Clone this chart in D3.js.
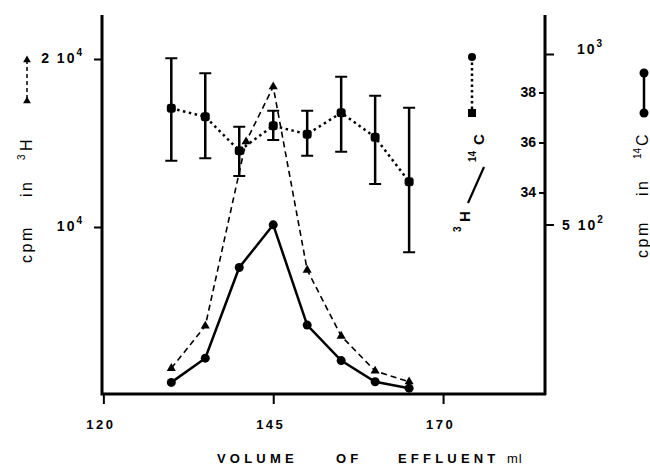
<!DOCTYPE html>
<html>
<head>
<meta charset="utf-8">
<script src="https://cdn.jsdelivr.net/npm/d3@7"></script>
<style>
  body { margin: 0; background: #fff; }
  svg { display: block; font-family: "Liberation Sans", Arial, sans-serif; }
</style>
</head>
<body>
<div id="chart"></div>
<script>
// fractions collected (ml of effluent)
let volumes = [130, 135, 140, 145, 150, 155, 160, 165];
let volumesH = [130, 135, 141, 145, 150, 155, 160, 165];
// 3H counts (left axis) and 14C counts (right axis)
let cpmH = [1590, 4110, 15080, 18350, 7440, 3510, 1430, 790];
let cpmC = [37, 108, 374, 499, 205, 101, 39, 20];
// 3H / 14C ratio with error bars
let ratio = [37.37, 37.03, 35.67, 36.67, 36.33, 37.19, 36.21, 34.43];
let ratioLow = [35.27, 35.37, 34.66, 36.10, 35.47, 35.63, 34.34, 31.61];
let ratioHigh = [39.37, 38.77, 36.63, 37.27, 37.27, 38.63, 37.87, 37.39];

let xTicks = [120, 145, 170];
let hTicks = [10000, 20000], hTickText = ['10', '2 10'], hTickExp = ['4', '4'];
let cTicks = [500, 1000], cTickText = ['5 10', '10'], cTickExp = ['2', '3'];
let rTicks = [34, 36, 38];

let width = 650, height = 465;
let plotLeft = 102, plotRight = 545, plotTop = 15, plotBottom = 394;
let font = '"Liberation Sans", Arial, sans-serif';

let svg = d3.select('#chart')
    .append('svg')
    .attr('width', width)
    .attr('height', height);

let x = d3.scaleLinear().domain([119.8, 185]).range([plotLeft, plotRight]);
let yH = d3.scaleLinear().domain([0, 20000]).range([395, 59]);
let yC = d3.scaleLinear().domain([0, 1000]).range([395, 54]);
let yR = d3.scaleLinear().domain([34, 38]).range([192.5, 92.5]);

// frame lines
svg.append('path')
    .attr('d', `M${plotLeft},${plotTop}V${plotBottom}H${plotRight + 1}M${plotRight},${plotTop}V${plotBottom + 1}`)
    .attr('fill', 'none')
    .attr('stroke', '#000')
    .attr('stroke-width', 3);

// x axis
let xAxis = svg.append('g')
    .attr('transform', `translate(0,${plotBottom})`)
    .call(d3.axisBottom(x).tickValues(xTicks).tickSize(10).tickPadding(16));
xAxis.select('.domain').remove();
xAxis.selectAll('line').attr('stroke-width', 2);
xAxis.selectAll('text')
    .attr('font-size', 13)
    .attr('font-weight', 'bold')
    .attr('letter-spacing', 2.5)
    .attr('dx', -3)
    .attr('font-family', font);

// left 3H axis
let hAxis = svg.append('g')
    .attr('transform', `translate(${plotLeft},0)`)
    .call(d3.axisLeft(yH).tickValues(hTicks).tickSize(8).tickFormat(''));
hAxis.select('.domain').remove();
hAxis.selectAll('line').attr('stroke-width', 2);
let hLab = svg.selectAll('.hlab')
    .data(hTicks)
    .enter()
    .append('text')
    .attr('x', 84)
    .attr('y', d => yH(d) + 4)
    .attr('text-anchor', 'end')
    .attr('font-size', 14)
    .attr('font-weight', 'bold')
    .attr('letter-spacing', 2);
hLab.append('tspan').text((d, i) => hTickText[i]);
hLab.append('tspan').attr('dy', -7).attr('font-size', 10).text((d, i) => hTickExp[i]);

// right 14C axis (ticks outward)
let cAxis = svg.append('g')
    .attr('transform', `translate(${plotRight},0)`)
    .call(d3.axisRight(yC).tickValues(cTicks).tickSize(9).tickFormat(''));
cAxis.select('.domain').remove();
cAxis.selectAll('line').attr('stroke-width', 2);
let cLab = svg.selectAll('.clab')
    .data(cTicks)
    .enter()
    .append('text')
    .attr('x', (d, i) => i === 0 ? 562 : 577)
    .attr('y', (d, i) => yC(d) + (i === 0 ? 5 : 0))
    .attr('font-size', 14)
    .attr('font-weight', 'bold')
    .attr('letter-spacing', 2);
cLab.append('tspan').text((d, i) => cTickText[i]);
cLab.append('tspan').attr('dy', -7).attr('font-size', 10).text((d, i) => cTickExp[i]);

// right ratio axis (ticks inward)
let rAxis = svg.append('g')
    .attr('transform', `translate(${plotRight},0)`)
    .call(d3.axisLeft(yR).tickValues(rTicks).tickSize(6).tickPadding(3).tickFormat(d3.format('d')));
rAxis.select('.domain').remove();
rAxis.selectAll('line').attr('stroke-width', 2);
rAxis.selectAll('text')
    .attr('font-size', 14)
    .attr('font-weight', 'bold')
    .attr('font-family', font);

// ratio error bars
let eb = svg.append('g').attr('stroke', '#000');
eb.selectAll('.bar')
    .data(volumes)
    .enter()
    .append('line')
    .attr('x1', d => x(d)).attr('x2', d => x(d))
    .attr('y1', (d, i) => yR(ratioLow[i]))
    .attr('y2', (d, i) => yR(ratioHigh[i]))
    .attr('stroke-width', 2.5);
[ratioLow, ratioHigh].forEach(arr => {
    eb.selectAll(null)
        .data(volumes)
        .enter()
        .append('line')
        .attr('x1', d => x(d) - 6).attr('x2', d => x(d) + 6)
        .attr('y1', (d, i) => yR(arr[i]))
        .attr('y2', (d, i) => yR(arr[i]))
        .attr('stroke-width', 2);
});

// ratio dotted line
svg.append('path')
    .datum(volumes)
    .attr('d', d3.line().x(d => x(d)).y((d, i) => yR(ratio[i])))
    .attr('fill', 'none')
    .attr('stroke', '#000')
    .attr('stroke-width', 2.5)
    .attr('stroke-dasharray', '2.5,3.5');
svg.selectAll('.rpt')
    .data(volumes)
    .enter()
    .append('rect')
    .attr('x', d => x(d) - 4.5)
    .attr('y', (d, i) => yR(ratio[i]) - 4.5)
    .attr('width', 9).attr('height', 9)
    .attr('rx', 3)
    .attr('fill', '#000');

// 3H dashed line with triangles
svg.append('path')
    .datum(volumesH)
    .attr('d', d3.line().x(d => x(d)).y((d, i) => yH(cpmH[i])))
    .attr('fill', 'none')
    .attr('stroke', '#000')
    .attr('stroke-width', 1.6)
    .attr('stroke-dasharray', '6,4');
svg.selectAll('.hpt')
    .data(volumesH)
    .enter()
    .append('path')
    .attr('d', d3.symbol(d3.symbolTriangle, 36))
    .attr('transform', (d, i) => `translate(${x(d)},${yH(cpmH[i])})`)
    .attr('fill', '#000');

// 14C solid line with circles
svg.append('path')
    .datum(volumes)
    .attr('d', d3.line().x(d => x(d)).y((d, i) => yC(cpmC[i])))
    .attr('fill', 'none')
    .attr('stroke', '#000')
    .attr('stroke-width', 2.5);
svg.selectAll('.cpt')
    .data(volumes)
    .enter()
    .append('circle')
    .attr('cx', d => x(d))
    .attr('cy', (d, i) => yC(cpmC[i]))
    .attr('r', 4.5)
    .attr('fill', '#000');

// axis titles
let lt = svg.append('text')
    .attr('transform', 'translate(32,263) rotate(-90)')
    .attr('font-size', 16)
    .attr('letter-spacing', 2.5);
lt.append('tspan').attr('x', 0).text('cpm');
lt.append('tspan').attr('x', 66).text('in');
lt.append('tspan').attr('x', 103).attr('dy', -7).attr('font-size', 10).text('3');
lt.append('tspan').attr('x', 112).attr('dy', 7).text('H');

let rt = svg.append('text')
    .attr('transform', 'translate(648,258) rotate(-90)')
    .attr('font-size', 16)
    .attr('letter-spacing', 2.5);
rt.append('tspan').attr('x', 0).text('cpm');
rt.append('tspan').attr('x', 62).text('in');
rt.append('tspan').attr('x', 99).attr('dy', -7).attr('font-size', 10).attr('letter-spacing', 0).text('14');
rt.append('tspan').attr('x', 112).attr('dy', 7).text('C');

let qt = svg.append('text')
    .attr('transform', 'translate(470,234) rotate(-90)')
    .attr('font-size', 15)
    .attr('font-weight', 'bold');
qt.append('tspan').attr('x', 2).attr('y', -9).attr('font-size', 10).text('3');
qt.append('tspan').attr('x', 12).attr('y', 0).text('H');
qt.append('tspan').attr('x', 72).attr('y', 6).attr('font-size', 10).text('14');
qt.append('tspan').attr('x', 89).attr('y', 14).text('C');
svg.append('line')
    .attr('x1', 468).attr('y1', 203)
    .attr('x2', 484).attr('y2', 167)
    .attr('stroke', '#000')
    .attr('stroke-width', 2.2);

// x axis title
let xt = svg.append('text')
    .attr('y', 463)
    .attr('font-size', 13)
    .attr('font-weight', 'bold')
    .attr('letter-spacing', 4.2);
xt.append('tspan').attr('x', 217).text('VOLUME');
xt.append('tspan').attr('x', 336).text('OF');
xt.append('tspan').attr('x', 398).text('EFFLUENT');
xt.append('tspan').attr('x', 507).attr('font-weight', 'normal').attr('letter-spacing', 1).text('ml');

// legend keys
let key = svg.append('g').attr('stroke', '#000');
key.append('line').attr('x1', 27).attr('x2', 27).attr('y1', 60).attr('y2', 101)
    .attr('stroke-width', 1.5).attr('stroke-dasharray', '4,3');
[60, 101].forEach(yy => {
    svg.append('path')
        .attr('d', d3.symbol(d3.symbolTriangle, 26))
        .attr('transform', `translate(27,${yy})`)
        .attr('fill', '#000');
});
key.append('line').attr('x1', 472).attr('x2', 472).attr('y1', 57).attr('y2', 113)
    .attr('stroke-width', 2.5).attr('stroke-dasharray', '2.5,3');
svg.append('circle').attr('cx', 472).attr('cy', 57).attr('r', 4).attr('fill', '#000');
svg.append('rect').attr('x', 468).attr('y', 109).attr('width', 8).attr('height', 8).attr('fill', '#000');
key.append('line').attr('x1', 644).attr('x2', 644).attr('y1', 73).attr('y2', 113)
    .attr('stroke-width', 2.5);
svg.append('circle').attr('cx', 644).attr('cy', 73).attr('r', 4.5).attr('fill', '#000');
svg.append('circle').attr('cx', 644).attr('cy', 113).attr('r', 4.5).attr('fill', '#000');
</script>
</body>
</html>
